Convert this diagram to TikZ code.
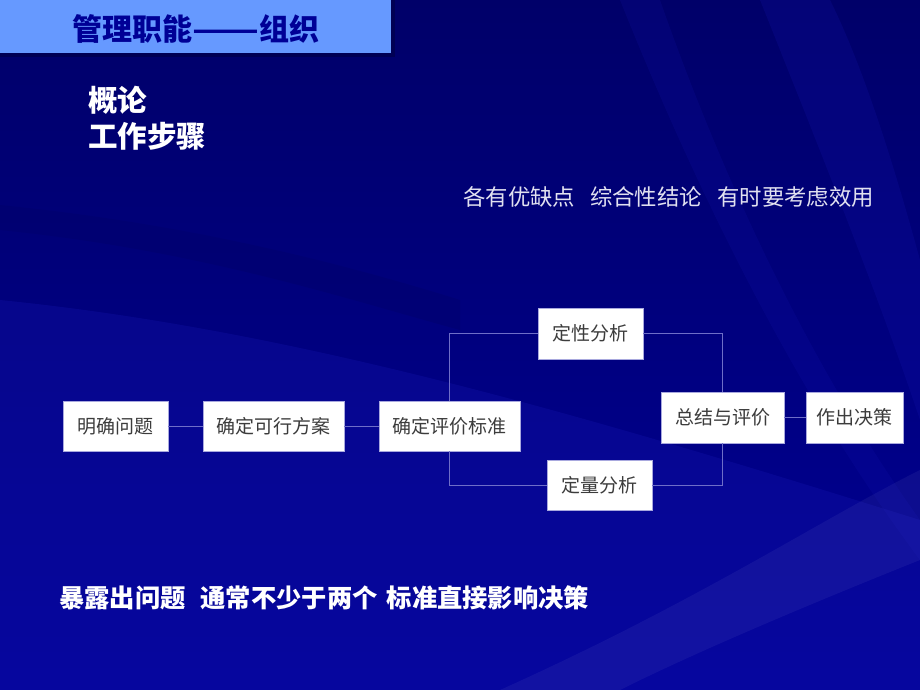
\documentclass[tikz,border=0pt]{standalone}
\usepackage{fontspec}
\usepackage{graphicx}
\setmainfont{Liberation Sans}
\newfontfamily\cjk{Noto Sans CJK SC}
\usetikzlibrary{calc}
\definecolor{bgdark}{RGB}{0,0,105}
\definecolor{bgmid}{RGB}{0,0,150}
\definecolor{bglight}{RGB}{25,25,185}
\definecolor{barblue}{RGB}{102,153,255}
\definecolor{titleblue}{RGB}{0,0,150}
\definecolor{linec}{RGB}{110,110,200}
\definecolor{boxtext}{RGB}{60,60,60}
\definecolor{softwhite}{RGB}{225,225,240}
\tikzset{
  stepbox/.style={draw=linec!60!white, line width=0.6pt, fill=white, inner sep=0pt,
    font=\cjk\fontsize{19}{19}\selectfont, text=boxtext},
  conn/.style={draw=linec, line width=0.7pt},
  bigtxt/.style={font=\cjk\bfseries\fontsize{29.5}{31}\selectfont, text=white, anchor=west, inner sep=0pt},
}
\begin{document}
\begin{tikzpicture}[x=1pt,y=-1pt]
\useasboundingbox (0,0) rectangle (920,690);
% background
\shade[top color=bgdark, bottom color=bgmid] (0,0) rectangle (920,690);
\fill[bglight, opacity=0.25] (0,300) .. controls (300,330) and (600,420) .. (920,520) -- (920,690) -- (0,690) -- cycle;
\fill[bgdark, opacity=0.4] (0,230) .. controls (200,250) and (350,300) .. (460,330) -- (460,300) .. controls (300,250) and (150,220) .. (0,205) -- cycle;
\fill[bglight, opacity=0.18] (760,0) .. controls (820,150) and (880,300) .. (920,420) -- (920,260) .. controls (890,150) and (860,60) .. (830,0) -- cycle;
\fill[bglight, opacity=0.15] (620,0) .. controls (700,200) and (800,400) .. (920,560) -- (920,520) .. controls (820,380) and (730,200) .. (660,0) -- cycle;
\fill[white, opacity=0.05] (500,690) .. controls (700,600) and (820,520) .. (920,470) -- (920,560) .. controls (820,600) and (700,650) .. (620,690) -- cycle;
% title bar
\fill[bgdark!80!black] (0,0) rectangle (395,57);
\fill[barblue] (0,0) rectangle (391,53);
\node[font=\cjk\bfseries\fontsize{30}{32}\selectfont, text=titleblue, inner sep=0pt] (title) at (196,29) {管理职能\scalebox{1.3}[1]{——}组织};
% headings
\node[bigtxt] (h1) at (88,100) {概论};
\node[bigtxt] (h2) at (88,136) {工作步骤};
% remark texts
\node[font=\cjk\fontsize{22.4}{24}\selectfont, text=softwhite, anchor=west, inner sep=0pt] (r1) at (463,197) {各有优缺点\hspace{15pt}综合性结论\hspace{15pt}有时要考虑效用};
\node[font=\cjk\bfseries\fontsize{25.3}{28}\selectfont, text=white, anchor=west, inner sep=0pt] (r2) at (59,598) {暴露出问题\hspace{15pt}通常不少于两个\hspace{9pt}标准直接影响决策};
% boxes
\node[stepbox, minimum width=105pt, minimum height=50pt] (b1) at (115.5,426) {明确问题};
\node[stepbox, minimum width=141pt, minimum height=50pt] (b2) at (273.5,426) {确定可行方案};
\node[stepbox, minimum width=141pt, minimum height=50pt] (b3) at (449.5,426) {确定评价标准};
\node[stepbox, minimum width=105pt, minimum height=51pt] (q1) at (590.5,333.5) {定性分析};
\node[stepbox, minimum width=105pt, minimum height=50pt] (q2) at (599.5,485) {定量分析};
\node[stepbox, minimum width=123pt, minimum height=51pt] (s) at (722.5,417.5) {总结与评价};
\node[stepbox, minimum width=97pt, minimum height=51pt] (d) at (854.5,417.5) {作出决策};
% connectors
\draw[conn] (b1.east) -- (b2.west);
\draw[conn] (b2.east) -- (b3.west);
\draw[conn] (b3.north) |- (q1.west);
\draw[conn] (b3.south) |- (q2.west);
\draw[conn] (q1.east) -| (s.north);
\draw[conn] (q2.east) -| (s.south);
\draw[conn] (s.east) -- (d.west);
\end{tikzpicture}
\end{document}
